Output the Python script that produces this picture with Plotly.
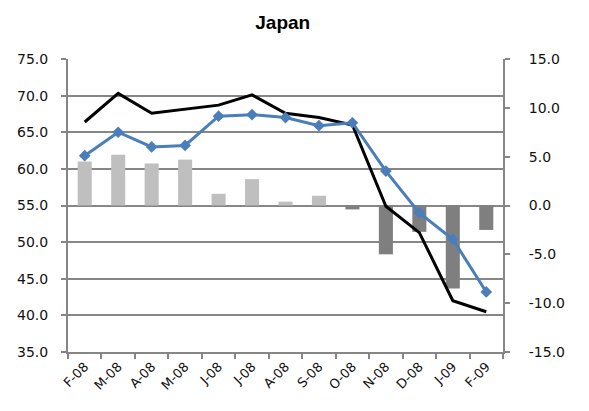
import plotly.graph_objects as go

# Monthly categories
months = ["F-08", "M-08", "A-08", "M-08 ", "J-08", "J-08 ", "A-08 ", "S-08",
          "O-08", "N-08", "D-08", "J-09", "F-09"]
month_labels = ["F-08", "M-08", "A-08", "M-08", "J-08", "J-08", "A-08", "S-08",
                "O-08", "N-08", "D-08", "J-09", "F-09"]

# Index levels (left axis)
black_series = [66.4, 70.3, 67.6, 68.1, 68.7, 70.1, 67.6, 67.0, 66.0, 54.9, 51.3, 42.0, 40.5]
blue_series = [61.8, 65.0, 63.0, 63.2, 67.2, 67.4, 67.0, 65.9, 66.3, 59.7, 54.0, 50.4, 43.2]

# Change values (right axis)
change_values = [4.5, 5.2, 4.3, 4.7, 1.2, 2.7, 0.4, 1.0, -0.4, -5.0, -2.7, -8.5, -2.5]

left_ticks = [35.0, 40.0, 45.0, 50.0, 55.0, 60.0, 65.0, 70.0, 75.0]
right_ticks = [-15.0, -10.0, -5.0, 0.0, 5.0, 10.0, 15.0]

AXIS_GREY = "#868686"
bar_colors = ["#BFBFBF" if v >= 0 else "#7F7F7F" for v in change_values]

fig = go.Figure()

# Bars sit on the base axis (right side) so the lines draw over them
fig.add_trace(go.Bar(
    x=months, y=change_values, yaxis="y",
    marker=dict(color=bar_colors, line=dict(width=0)),
    width=0.42, showlegend=False,
))

fig.add_trace(go.Scatter(
    x=months, y=black_series, yaxis="y2", mode="lines",
    line=dict(color="#000000", width=3), showlegend=False,
))

fig.add_trace(go.Scatter(
    x=months, y=blue_series, yaxis="y2", mode="lines+markers",
    line=dict(color="#4A7EBB", width=3),
    marker=dict(symbol="diamond", size=9, color="#4A7EBB"),
    showlegend=False,
))

tick_font = dict(family="DejaVu Sans", size=14, color="#111111")

fig.update_layout(
    width=589, height=411,
    margin=dict(l=68, r=86, t=59, b=59),
    paper_bgcolor="white", plot_bgcolor="white",
    title=dict(text="<b>Japan</b>", x=0.48, xanchor="center", y=0.945, yanchor="middle",
               font=dict(family="Liberation Sans, Arial", size=19, color="#000000")),
    bargap=0.58,
    xaxis=dict(
        type="category", categoryorder="array", categoryarray=months,
        tickvals=months, ticktext=month_labels,
        tickangle=-45, tickfont=dict(family="DejaVu Sans", size=13, color="#111111"),
        ticks="outside", ticklen=5, tickwidth=1.5, tickcolor=AXIS_GREY,
        tickson="boundaries",
        showline=True, linecolor=AXIS_GREY, linewidth=2,
        showgrid=False, zeroline=False,
        range=[-0.5, len(months) - 0.5],
    ),
    yaxis=dict(
        side="right", range=[-15, 15], tickvals=right_ticks,
        ticktext=[f"{v:.1f}" for v in right_ticks],
        tickfont=tick_font, ticks="outside", ticklen=5, tickwidth=1.5,
        tickcolor=AXIS_GREY, ticklabelstandoff=16,
        showline=True, linecolor=AXIS_GREY, linewidth=2,
        showgrid=False, zeroline=False,
    ),
    yaxis2=dict(
        overlaying="y", side="left", range=[35, 75], tickvals=left_ticks,
        ticktext=[f"{v:.1f}" for v in left_ticks],
        tickfont=tick_font, ticks="outside", ticklen=5, tickwidth=1.5,
        tickcolor=AXIS_GREY, ticklabelstandoff=10,
        showline=True, linecolor=AXIS_GREY, linewidth=2,
        showgrid=True, gridcolor=AXIS_GREY, gridwidth=1.5, zeroline=False,
    ),
)

fig.write_html("out.html")
